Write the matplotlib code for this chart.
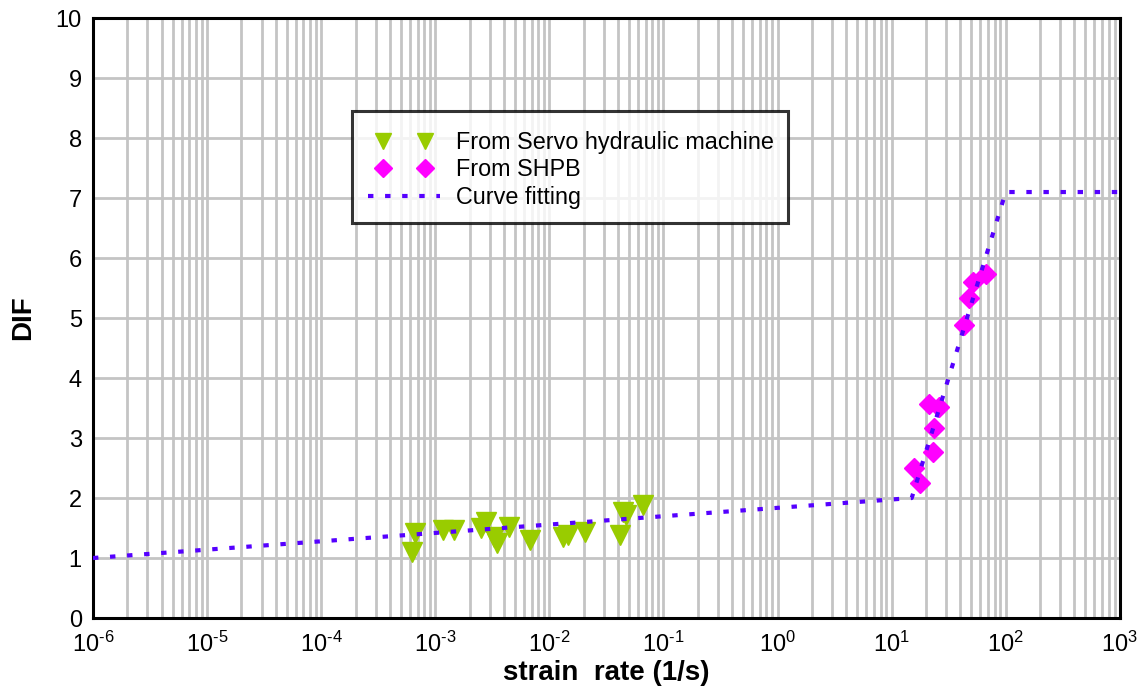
import numpy as np
import matplotlib
matplotlib.use('Agg')
import matplotlib.pyplot as plt
from matplotlib.ticker import LogLocator, FixedLocator, FuncFormatter
from matplotlib.legend_handler import HandlerLine2D

plt.rcParams['font.family'] = ['Liberation Sans', 'DejaVu Sans']
plt.rcParams['mathtext.fontset'] = 'custom'
plt.rcParams['mathtext.rm'] = 'Liberation Sans'
plt.rcParams['mathtext.default'] = 'regular'

# Servo hydraulic machine tests
servo_rate = [6.2e-4, 6.6e-4, 1.18e-3, 1.45e-3, 2.5e-3, 2.8e-3, 3.25e-3, 3.5e-3,
              4.4e-3, 6.7e-3, 1.31e-2, 1.45e-2, 2.05e-2, 4.2e-2, 4.4e-2, 4.7e-2, 6.6e-2]
servo_dif = [1.10, 1.42, 1.47, 1.47, 1.50, 1.60, 1.35, 1.25,
             1.52, 1.30, 1.35, 1.38, 1.43, 1.38, 1.77, 1.72, 1.88]

# Split Hopkinson pressure bar tests
shpb_rate = [15.8, 17.9, 23.2, 23.7, 21.4, 26.2, 43.5, 48.1, 51.2, 67.8]
shpb_dif = [2.50, 2.25, 2.77, 3.17, 3.57, 3.52, 4.88, 5.33, 5.60, 5.73]

# Fitted curve breakpoints
fit_rate = [1e-6, 15.0, 100.0, 1000.0]
fit_dif = [1.0, 2.0, 7.1, 7.1]


def pow10_label(v, pos):
    e = int(round(np.log10(v)))
    if e < 0:
        return r'$10^{\text{-}%d}$' % (-e)
    return r'$10^{%d}$' % e


fig = plt.figure(figsize=(11.45, 6.94), dpi=100)
ax = fig.add_axes([0.0812, 0.1095, 0.8968, 0.8645])

servo, = ax.plot(servo_rate, servo_dif, 'v', color='#99cc00', markersize=14, linestyle='none',
                 label='From Servo hydraulic machine', zorder=3)
shpb, = ax.plot(shpb_rate, shpb_dif, 'D', color='#ff00ff', markersize=10.5, linestyle='none',
                label='From SHPB', zorder=3)
fit, = ax.plot(fit_rate, fit_dif, color='#5500ff', linewidth=3, linestyle=(0, (1.3, 2.8)),
               dash_capstyle='butt', label='Curve fitting', zorder=4)

ax.set_xscale('log')
ax.set_xlim(1e-6, 1e3)
ax.set_ylim(0, 10)
ax.yaxis.set_major_locator(FixedLocator(range(0, 11)))
ax.xaxis.set_major_locator(LogLocator(base=10, numticks=20))
ax.xaxis.set_minor_locator(LogLocator(base=10, subs=np.arange(2, 10), numticks=20))
ax.xaxis.set_major_formatter(FuncFormatter(pow10_label))

ax.grid(True, which='both', axis='x', color='#c4c4c4', linewidth=2)
ax.grid(True, which='major', axis='y', color='#c4c4c4', linewidth=2)
ax.set_axisbelow(True)
ax.tick_params(which='both', length=0, labelsize=17)
ax.tick_params(axis='x', pad=10)
ax.tick_params(axis='y', pad=8)

for s in ax.spines.values():
    s.set_linewidth(2.2)
    s.set_color('black')

ax.set_xlabel('strain  rate (1/s)', fontsize=20, fontweight='bold', labelpad=2)
ax.set_ylabel('DIF', fontsize=20, fontweight='bold', labelpad=14)

# markers sit inside the handle, the dotted line spans all of it;
# a blank tiny title gives a little extra room above the first row
leg = ax.legend(handles=[servo, shpb, fit], loc='upper left', bbox_to_anchor=(0.252, 0.845),
                numpoints=2, fontsize=16.8, frameon=True, fancybox=False, edgecolor='black',
                handlelength=3.3, handletextpad=0.58, borderpad=0.6,
                labelspacing=0.2, borderaxespad=0, markerscale=0.85,
                title=' ', title_fontsize=1,
                handler_map={servo: HandlerLine2D(marker_pad=0.75),
                             shpb: HandlerLine2D(marker_pad=0.75),
                             fit: HandlerLine2D(marker_pad=0.1)})
leg.get_frame().set_linewidth(2.2)

fig.savefig('out.png', dpi=100)
